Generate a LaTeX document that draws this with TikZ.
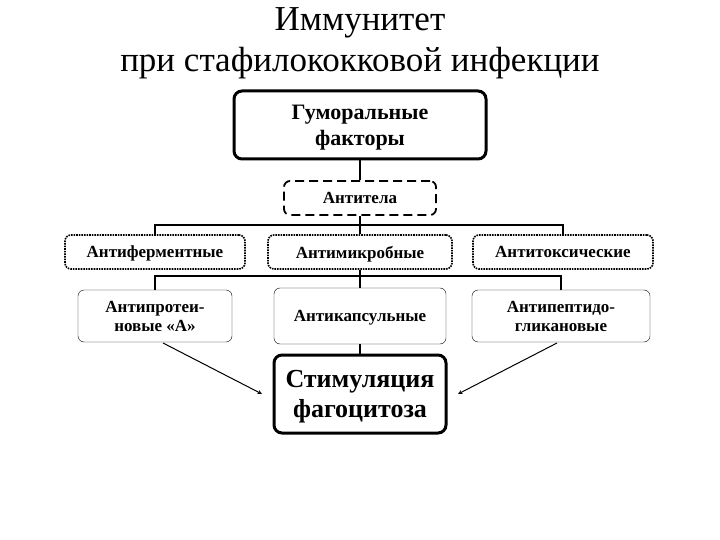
\documentclass[tikz,border=0pt]{standalone}
\usepackage{fontspec}
\setmainfont{Liberation Serif}
\begin{document}
\begin{tikzpicture}[x=1pt,y=-1pt,
  bx/.style={draw,rounded corners=6pt,align=center,font=\bfseries\fontsize{17}{19}\selectfont,inner sep=0pt,text depth=0pt},
  ln/.style={line width=1.6pt}]
\useasboundingbox (0,0) rectangle (720,540);
\node[font=\fontsize{35}{41}\selectfont,align=center] (t) at (360,43) {Иммунитет\\при стафилококковой инфекции};
\node[bx,line width=3pt,minimum width=252pt,minimum height=68pt,rounded corners=8pt,font=\bfseries\fontsize{22}{26}\selectfont] (g) at (360,125) {Гуморальные\\факторы};
\node[bx,line width=1.8pt,dash pattern=on 9pt off 5pt,minimum width=152pt,minimum height=34pt] (a) at (360,198) {Антитела};
\node[bx,line width=1.6pt,densely dotted,minimum width=180pt,minimum height=34pt] (r1) at (155,252) {Антиферментные};
\node[bx,line width=1.6pt,densely dotted,minimum width=184pt,minimum height=34pt] (r2) at (360,252) {Антимикробные};
\node[bx,line width=1.6pt,densely dotted,minimum width=180pt,minimum height=34pt] (r3) at (563,252) {Антитоксические};
\node[bx,minimum width=154pt,minimum height=52pt] (s1) at (155,316) {Антипротеи-\\новые «А»};
\node[bx,minimum width=172pt,minimum height=56pt] (s2) at (360,316) {Антикапсульные};
\node[bx,minimum width=178pt,minimum height=52pt] (s3) at (561,316) {Антипептидо-\\гликановые};
\node[bx,line width=3pt,minimum width=172pt,minimum height=78pt,rounded corners=8pt,font=\bfseries\fontsize{26}{30}\selectfont] (st) at (360,394) {Стимуляция\\фагоцитоза};
\coordinate (h1) at (360,225);
\coordinate (h2) at (360,276);
\draw[ln] (g.south) -- (a.north);
\draw[ln] (a.south) -- (h1);
\draw[ln] (r1.north) |- (h1) -| (r3.north);
\draw[ln] (h1) -- (r2.north);
\draw[ln] (r2.south) -- (h2);
\draw[ln] (s1.north) |- (h2) -| (s3.north);
\draw[ln] (h2) -- (s2.north);
\draw[ln] (s2.south) -- (st.north);
\draw[line width=1pt,-stealth] (163,343) -- (262,394);
\draw[line width=1pt,-stealth] (557,343) -- (458,394);
\end{tikzpicture}
\end{document}
